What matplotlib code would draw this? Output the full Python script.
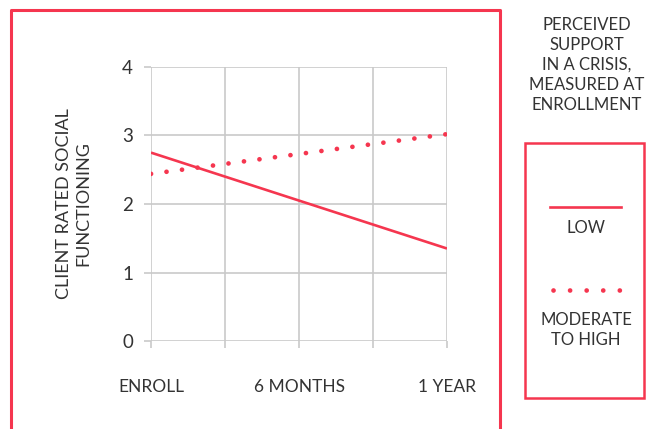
import matplotlib.pyplot as plt
from matplotlib.lines import Line2D
from matplotlib.patches import Rectangle

# data
months = [0, 6, 12]
low = [2.75, 2.05, 1.35]
moderate_high = [2.44, 2.73, 3.02]
xtick_pos = [0, 3, 6, 9, 12]
xtick_labels = ["ENROLL", "", "6 MONTHS", "", "1 YEAR"]
yticks = [0, 1, 2, 3, 4]

RED = "#F5364F"
GRID = "#C9C9C9"
TXT = "#333333"

plt.rcParams['font.family'] = ['Lato', 'DejaVu Sans']

W, H = 661, 429
fig = plt.figure(figsize=(W / 100, H / 100), dpi=100)
ax = fig.add_axes([151 / W, 88 / H, 296 / W, 274 / H])

ax.plot(months, low, color=RED, lw=1.9, solid_capstyle="butt")
ax.plot(months, moderate_high, color=RED, lw=3.4,
        linestyle=(0, (0.01, 3.3)), dash_capstyle="round")

ax.set_xlim(0, 12)
ax.set_ylim(0, 4)
ax.set_xticks(xtick_pos)
ax.set_xticklabels(xtick_labels)
ax.set_yticks(yticks)
ax.grid(True, color=GRID, lw=1.2)
for s in ax.spines.values():
    s.set_visible(False)
ax.tick_params(axis="both", colors=GRID, width=1.2, length=5)
ax.tick_params(axis="x", labelcolor=TXT, labelsize=12.5, pad=22)
ax.tick_params(axis="y", labelcolor=TXT, labelsize=13.5, pad=8)

ax.set_ylabel("CLIENT RATED SOCIAL\nFUNCTIONING", color=TXT, fontsize=13,
              linespacing=1.25, labelpad=22)


def px(x, y):
    return x / W, 1 - y / H


# outer frame around the chart (open at the bottom)
xs, ys = zip(px(11, 432), px(11, 9.5), px(500, 9.5), px(500, 432))
fig.add_artist(Line2D(xs, ys, color=RED, lw=2.2, transform=fig.transFigure))

# legend
title = "PERCEIVED\nSUPPORT\nIN A CRISIS,\nMEASURED AT\nENROLLMENT"
fig.text(*px(587, 65), title, ha="center", va="center", color=TXT,
         fontsize=12, linespacing=1.3)
x0, y0 = px(525, 398)
x1, y1 = px(644, 143)
fig.add_artist(Rectangle((x0, y0), x1 - x0, y1 - y0, fill=False,
                         edgecolor=RED, lw=1.8, transform=fig.transFigure))
lx, ly = zip(px(550, 207), px(621, 207))
fig.add_artist(Line2D(lx, ly, color=RED, lw=1.9, transform=fig.transFigure))
fig.text(*px(586, 228), "LOW", ha="center", va="center", color=TXT, fontsize=12)
dx, dy = zip(px(553, 290), px(620, 290))
fig.add_artist(Line2D(dx, dy, color=RED, lw=3.4, linestyle=(0, (0.01, 3.5)),
                      dash_capstyle="round", transform=fig.transFigure))
fig.text(*px(586, 330), "MODERATE\nTO HIGH", ha="center", va="center",
         color=TXT, fontsize=12, linespacing=1.3)

fig.savefig("out.png", dpi=100)
